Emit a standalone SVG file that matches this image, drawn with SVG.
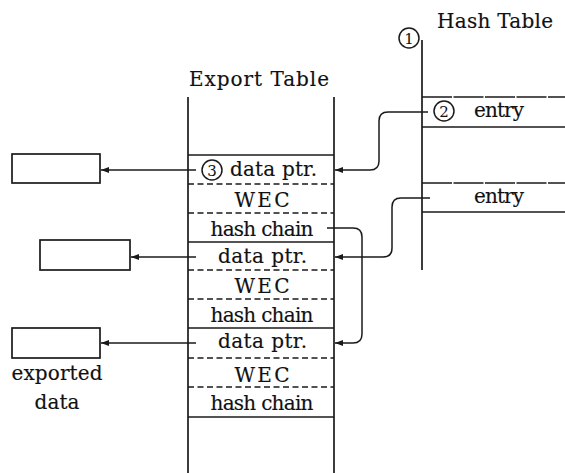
<svg xmlns="http://www.w3.org/2000/svg" width="565" height="473" viewBox="0 0 565 473" font-family="'DejaVu Serif', serif">
<defs>
<style>
.ln{stroke:#1a1a1a;stroke-width:1.7;fill:none}
.ds{stroke:#1a1a1a;stroke-width:1.6;fill:none;stroke-dasharray:6,3.5}
.hd{stroke:#1a1a1a;stroke-width:1.5;fill:none;stroke-dasharray:30,1.5}
.cn{stroke:#1a1a1a;stroke-width:1.5;fill:none}
text{font-family:'DejaVu Serif','Liberation Serif',serif}
.t{font-size:20px;fill:#111;stroke:#111;stroke-width:0.15;text-anchor:middle}
.d{font-size:15px;fill:#111;text-anchor:middle}
.c{stroke:#1a1a1a;stroke-width:1.5;fill:none}
</style>
<marker id="ah" markerWidth="8" markerHeight="6" refX="8" refY="3" orient="auto" markerUnits="userSpaceOnUse">
<path d="M0,0 L8,3 L0,6 Z" fill="#1a1a1a"/>
</marker>
</defs>
<rect width="565" height="473" fill="#fff"/>

<g id="export-table">
<text class="t" x="259" y="86" textLength="140">Export Table</text>
<line class="ln" x1="188" y1="97" x2="188" y2="473"/>
<line class="ln" x1="334" y1="97" x2="334" y2="473"/>
<line class="ln" x1="188" y1="155" x2="334" y2="155"/>
<line class="ds" x1="188" y1="184" x2="334" y2="184"/>
<line class="ds" x1="188" y1="213" x2="334" y2="213"/>
<line class="ln" x1="188" y1="242" x2="334" y2="242"/>
<line class="ds" x1="188" y1="270" x2="334" y2="270"/>
<line class="ds" x1="188" y1="299" x2="334" y2="299"/>
<line class="ln" x1="188" y1="328" x2="334" y2="328"/>
<line class="ds" x1="188" y1="358" x2="334" y2="358"/>
<line class="ds" x1="188" y1="387" x2="334" y2="387"/>
<line class="ln" x1="188" y1="417" x2="334" y2="417"/>
<circle class="c" cx="212" cy="170" r="10"/>
<text class="d" x="212" y="175.5">3</text>
<text class="t" x="273.5" y="176" textLength="87">data ptr.</text>
<text class="t" x="262" y="207" textLength="55">WEC</text>
<text class="t" x="262" y="236" textLength="103">hash chain</text>
<text class="t" x="262.5" y="263" textLength="89">data ptr.</text>
<text class="t" x="262" y="293" textLength="55">WEC</text>
<text class="t" x="262" y="322" textLength="103">hash chain</text>
<text class="t" x="262.5" y="348" textLength="89">data ptr.</text>
<text class="t" x="262" y="382" textLength="55">WEC</text>
<text class="t" x="262" y="410" textLength="103">hash chain</text>
</g>

<g id="hash-table">
<text class="t" x="495" y="28" textLength="116">Hash Table</text>
<circle class="c" cx="409" cy="38" r="10"/>
<text class="d" x="409" y="43.5">1</text>
<line class="ln" x1="422" y1="40" x2="422" y2="270"/>
<line class="hd" x1="422" y1="97" x2="565" y2="97"/>
<line class="ln" x1="422" y1="127" x2="565" y2="127"/>
<line class="hd" x1="422" y1="183" x2="565" y2="183"/>
<line class="ln" x1="422" y1="212" x2="565" y2="212"/>
<circle class="c" cx="444" cy="111" r="10"/>
<text class="d" x="444" y="116.5">2</text>
<text class="t" x="499" y="117" textLength="50">entry</text>
<text class="t" x="499" y="203" textLength="50">entry</text>
</g>

<g id="box1"><rect class="ln" x="12" y="154" width="88" height="29"/></g>
<g id="box2"><rect class="ln" x="40" y="240" width="90" height="30"/></g>
<g id="box3">
<rect class="ln" x="12" y="328" width="88" height="30"/>
<text class="t" x="57" y="380" textLength="91">exported</text>
<text class="t" x="57" y="409" textLength="45">data</text>
</g>

<g id="connectors">
<path class="cn" d="M428,112 H388 Q379,112 379,121 V161 Q379,170 370,170 H335" marker-end="url(#ah)"/>
<path class="cn" d="M430,198 H401 Q392,198 392,207 V248 Q392,257 383,257 H335" marker-end="url(#ah)"/>
<path class="cn" d="M327,228 H353 Q362,228 362,237 V334 Q362,343 353,343 H335" marker-end="url(#ah)"/>
<path class="cn" d="M196,170 H101" marker-end="url(#ah)"/>
<path class="cn" d="M196,257 H131" marker-end="url(#ah)"/>
<path class="cn" d="M196,343 H101" marker-end="url(#ah)"/>
</g>
</svg>
